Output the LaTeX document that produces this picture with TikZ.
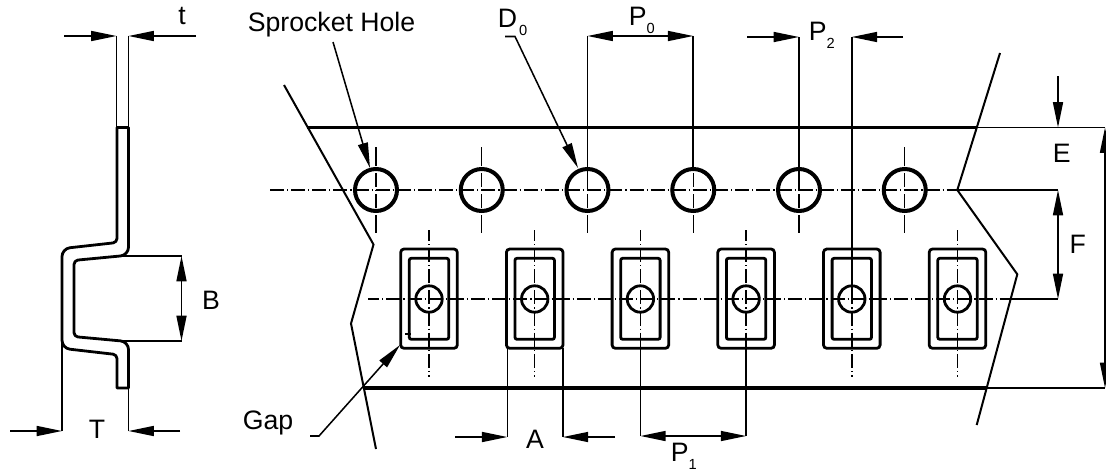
\documentclass[tikz,border=0pt]{standalone}
\usepackage{fontspec}
\setmainfont{Liberation Sans}
\usetikzlibrary{arrows.meta}

\newcommand{\lblsub}[1]{\raisebox{-6.2pt}{\fontsize{11pt}{11pt}\selectfont #1}}

\tikzset{
    dimtip/.tip={Triangle[length=19pt,width=7.5pt]},
    thinline/.style={line width=1.15pt},
    dimline/.style={line width=1.15pt},
    centerline/.style={line width=1.1pt, dash pattern=on 10.5pt off 2.25pt on 0.86pt off 2.25pt},
    tapeline/.style={line width=2.9pt},
    tearline/.style={line width=1.5pt},
    holeline/.style={line width=3pt},
    pocketline/.style={line width=2.1pt},
    lbl/.style={font=\fontsize{20pt}{20pt}\selectfont, inner sep=0pt, anchor=base}
}

\begin{document}
\begin{tikzpicture}[x=0.75pt,y=-0.75pt]

\useasboundingbox (0,0) rectangle (1106,472);
\clip (0,0) rectangle (1106,472);

% Side profile of the tape
\draw[pocketline, line join=round] (117,127.5) [rounded corners=3pt] -- (117,242.5) [rounded corners=6pt] -- (62,248.6) -- (62,348.3) [rounded corners=3pt] -- (117,354.6) [sharp corners] -- (117,388) -- (128.5,388) [rounded corners=6pt] -- (128.5,341.6) [rounded corners=3pt] -- (74,336.6) -- (74,260.4) [rounded corners=6pt] -- (128.5,255.2) [sharp corners] -- (128.5,127.5) -- cycle;

% Dimension t
\coordinate (tL) at (116.5,36);
\coordinate (tR) at (128.5,36);
\coordinate (tLfree) at (64,36);
\coordinate (tRfree) at (196,36);
\coordinate (tLbot) at (116.5,127.5);
\coordinate (tRbot) at (128.5,127.5);
\draw[thinline] (tLbot) -- (tL);
\draw[thinline] (tRbot) -- (tR);
\draw[dimline,-dimtip] (tLfree) -- (tL);
\draw[dimline,-dimtip] (tRfree) -- (tR);
\node[lbl] (lblt) at (182,24) {t};

% Dimension B
\coordinate (Btop) at (181.5,256);
\coordinate (Bbot) at (181.5,341);
\coordinate (Btopin) at (120,256);
\coordinate (Bbotin) at (122,341);
\draw[thinline] (Btopin) -- (Btop);
\draw[thinline] (Bbotin) -- (Bbot);
\draw[dimline,dimtip-dimtip] (Btop) -- (Bbot);
\node[lbl] (lblB) at (211,309) {B};

% Dimension T
\coordinate (TL) at (62,431);
\coordinate (TR) at (128.5,431);
\coordinate (TLtop) at (62,340);
\coordinate (TRtop) at (128.5,388);
\coordinate (TLfree) at (10,431);
\coordinate (TRfree) at (180,431);
\draw[thinline] (TLtop) -- (TL);
\draw[thinline] (TRtop) -- (TR);
\draw[dimline,-dimtip] (TLfree) -- (TL);
\draw[dimline,-dimtip] (TRfree) -- (TR);
\node[lbl] (lblT) at (97,438) {T};

% Tape edges
\draw[tapeline] (307,127.5) -- (977,127.5);
\draw[tapeline] (363,388) -- (987,388);
\draw[thinline] (977,127.5) -- (1105,127.5);
\draw[thinline] (987,388) -- (1105,388);

% Torn ends
\draw[tearline] (284,85) -- (373.5,244.5) -- (351,323.5) -- (376,449);
\draw[tearline] (1000,53) -- (957.3,190) -- (1017.3,274.3) -- (976.7,425);

% Center lines
\draw[centerline] (270,190) -- (957.3,190);
\draw[centerline, dash phase=2pt] (368,299) -- (1012,299);

% Sprocket holes
\foreach \cx in {376,481.75,587.5,693.25,799,904.75} {
    \draw[holeline] (\cx,190) circle (21);
    \draw[centerline] (\cx,151.7) -- (\cx,228.3);
    \draw[centerline, solid] (\cx,147) -- (\cx,152) (\cx,228) -- (\cx,233);
}

% Pockets
\foreach \cx in {429,534.7,640.4,746.1,851.8,957.5} {
    \draw[pocketline, rounded corners=2.5pt] (\cx-28.3,249) rectangle (\cx+28.3,348.3);
    \draw[pocketline, rounded corners=1.5pt] (\cx-19.7,258.3) rectangle (\cx+19.7,339.3);
    \draw[pocketline] (\cx,299) circle (13.2);
    \draw[centerline, dash phase=2.25pt] (\cx,230) -- (\cx,377);
}
\draw[thinline] (405,334) -- (411,334);

% Leaders
\coordinate (holeTip) at (370,168);
\coordinate (holeFree) at (333,42);
\draw[dimline,-dimtip] (holeFree) -- (holeTip);
\node[lbl, anchor=base west] (lblHole) at (247.5,31) {Sprocket Hole};

\coordinate (dTip) at (578,168);
\coordinate (dKnee) at (515,36.5);
\coordinate (dFree) at (505,36.5);
\draw[dimline,-dimtip] (dFree) -- (dKnee) -- (dTip);
\node[lbl, anchor=base west] (lblD) at (497.5,27) {D\hspace{1.5pt}\lblsub{0}};

\coordinate (gapTip) at (400,345);
\coordinate (gapKnee) at (319,436);
\coordinate (gapFree) at (310,436);
\draw[dimline,-dimtip] (gapFree) -- (gapKnee) -- (gapTip);
\node[lbl, anchor=base west] (lblGap) at (242.5,429) {Gap};

% Dimension P0
\coordinate (PzL) at (587.5,36);
\coordinate (PzR) at (693.25,36);
\coordinate (PzLbot) at (587.5,190);
\coordinate (PzRbot) at (693.25,168);
\draw[thinline] (PzLbot) -- (PzL);
\draw[thinline] (PzRbot) -- (PzR);
\draw[dimline,dimtip-dimtip] (PzL) -- (PzR);
\node[lbl, anchor=base west] (lblPz) at (628.5,25) {P\lblsub{0}};

% Dimension P2
\coordinate (PtL) at (799,37);
\coordinate (PtR) at (851.8,37);
\coordinate (PtLbot) at (799,190);
\coordinate (PtRbot) at (851.8,299);
\coordinate (PtLfree) at (747,37);
\coordinate (PtRfree) at (903,37);
\draw[thinline] (PtLbot) -- (PtL);
\draw[thinline] (PtRbot) -- (PtR);
\draw[dimline,-dimtip] (PtLfree) -- (PtL);
\draw[dimline,-dimtip] (PtRfree) -- (PtR);
\node[lbl, anchor=base west] (lblPt) at (808.5,40) {P\lblsub{2}};

% Dimension A
\coordinate (AL) at (507.3,437);
\coordinate (AR) at (562.9,437);
\coordinate (ALtop) at (507.3,348);
\coordinate (ARtop) at (562.9,348);
\coordinate (ALfree) at (455,437);
\coordinate (ARfree) at (615,437);
\draw[thinline] (ALtop) -- (AL);
\draw[thinline] (ARtop) -- (AR);
\draw[dimline,-dimtip] (ALfree) -- (AL);
\draw[dimline,-dimtip] (ARfree) -- (AR);
\node[lbl] (lblA) at (535,448) {A};

% Dimension P1
\coordinate (PoL) at (640.4,436);
\coordinate (PoR) at (746.1,436);
\coordinate (PoLtop) at (640.4,348);
\coordinate (PoRtop) at (746.1,348);
\draw[thinline] (PoLtop) -- (PoL);
\draw[thinline] (PoRtop) -- (PoR);
\draw[dimline,dimtip-dimtip] (PoL) -- (PoR);
\node[lbl, anchor=base west] (lblPo) at (670.5,461.7) {P\lblsub{1}};

% Dimension E
\coordinate (Etip) at (1058,127.5);
\coordinate (Efree) at (1058,76);
\draw[dimline,-dimtip] (Efree) -- (Etip);
\node[lbl] (lblE) at (1061.7,162) {E};

% Dimension F
\coordinate (Ftop) at (1058,190);
\coordinate (Fbot) at (1058,299);
\coordinate (Ftopin) at (957.3,190);
\coordinate (Fbotin) at (1012,299);
\draw[thinline] (Ftopin) -- (Ftop);
\draw[thinline] (Fbotin) -- (Fbot);
\draw[dimline,dimtip-dimtip] (Ftop) -- (Fbot);
\node[lbl] (lblF) at (1077.7,253) {F};

% Overall width at the right edge
\coordinate (Wtop) at (1105,127.5);
\coordinate (Wbot) at (1105,388);
\draw[dimline,dimtip-dimtip] (Wtop) -- (Wbot);

\end{tikzpicture}
\end{document}
